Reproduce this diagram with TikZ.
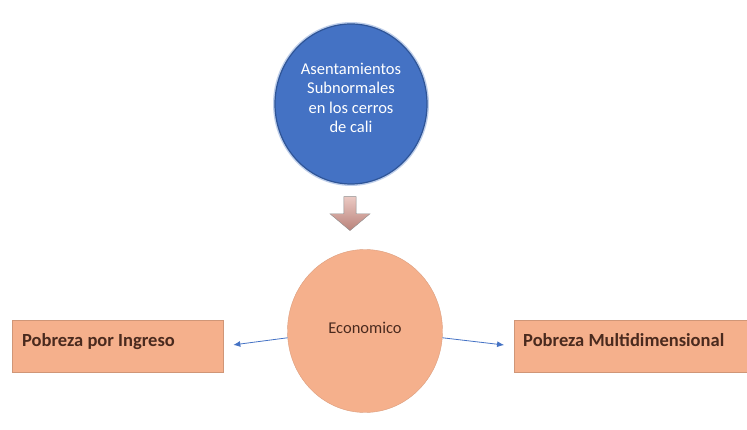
\documentclass[tikz,border=0pt]{standalone}
\usepackage{fontspec}
\setmainfont{Carlito}
\usetikzlibrary{shapes.geometric,shapes.arrows,arrows.meta}
\definecolor{azul}{HTML}{4472C4}
\definecolor{azulborde}{HTML}{2F5597}
\definecolor{salmon}{HTML}{F5B08C}
\definecolor{cafe}{HTML}{4A2A1E}
\definecolor{rosa}{HTML}{EBC9C3}
\definecolor{rosaosc}{HTML}{B9827A}
\tikzset{
  caja/.style={draw=salmon!85!black, fill=salmon, minimum height=52pt, minimum width=#1,
    anchor=north west},
  titulo/.style={anchor=base west, inner sep=0pt, font=\fontsize{18.5}{21}\selectfont\bfseries, text=cafe},
  flecha/.style={-{Latex[length=7pt,width=6pt]}, draw=azul, line width=0.8pt, shorten >=10pt}
}
\begin{document}
\begin{tikzpicture}[x=1pt, y=-1pt]
            \useasboundingbox (0,0) rectangle (747,430);
            \node[ellipse, fill=azul, draw=azulborde, line width=1.2pt, minimum width=152pt, minimum height=160pt,
                  preaction={draw=azul!35, line width=4pt}] (asent) at (351,104) {};
            \node[text=white, align=center, font=\fontsize{16.5}{19.5}\selectfont]
                  (asenttxt) at ([yshift=6pt]asent.center) {Asentamientos\\Subnormales\\en los cerros\\de cali};
            \node[single arrow, shape border rotate=270, draw=black!45, top color=rosa, bottom color=rosaosc,
                  minimum width=40pt, minimum height=34pt, single arrow head extend=8pt, single arrow tip angle=100] (baja) at (350,211) {};
            \node[ellipse, fill=salmon, draw=salmon!90!black, minimum width=155pt, minimum height=163pt] (eco) at (365,331) {};
            \node[text=cafe, font=\fontsize{16.5}{19}\selectfont] (ecotxt) at ([yshift=3pt]eco.center) {Economico};

            \node[caja=211pt] (ingreso) at (12,320) {};
            \node[titulo] (ingresotxt) at ([xshift=10pt,yshift=-26pt]ingreso.north west) {Pobreza por Ingreso};
            \node[caja=234pt] (multi) at (514,320) {};
            \node[titulo] (multitxt) at ([xshift=9pt,yshift=-26pt]multi.north west) {Pobreza Multidimensional};

            \draw[flecha] (eco.185) -- (ingreso.east);
            \draw[flecha] (eco.-5) -- (multi.west);
        \end{tikzpicture}
\end{document}
